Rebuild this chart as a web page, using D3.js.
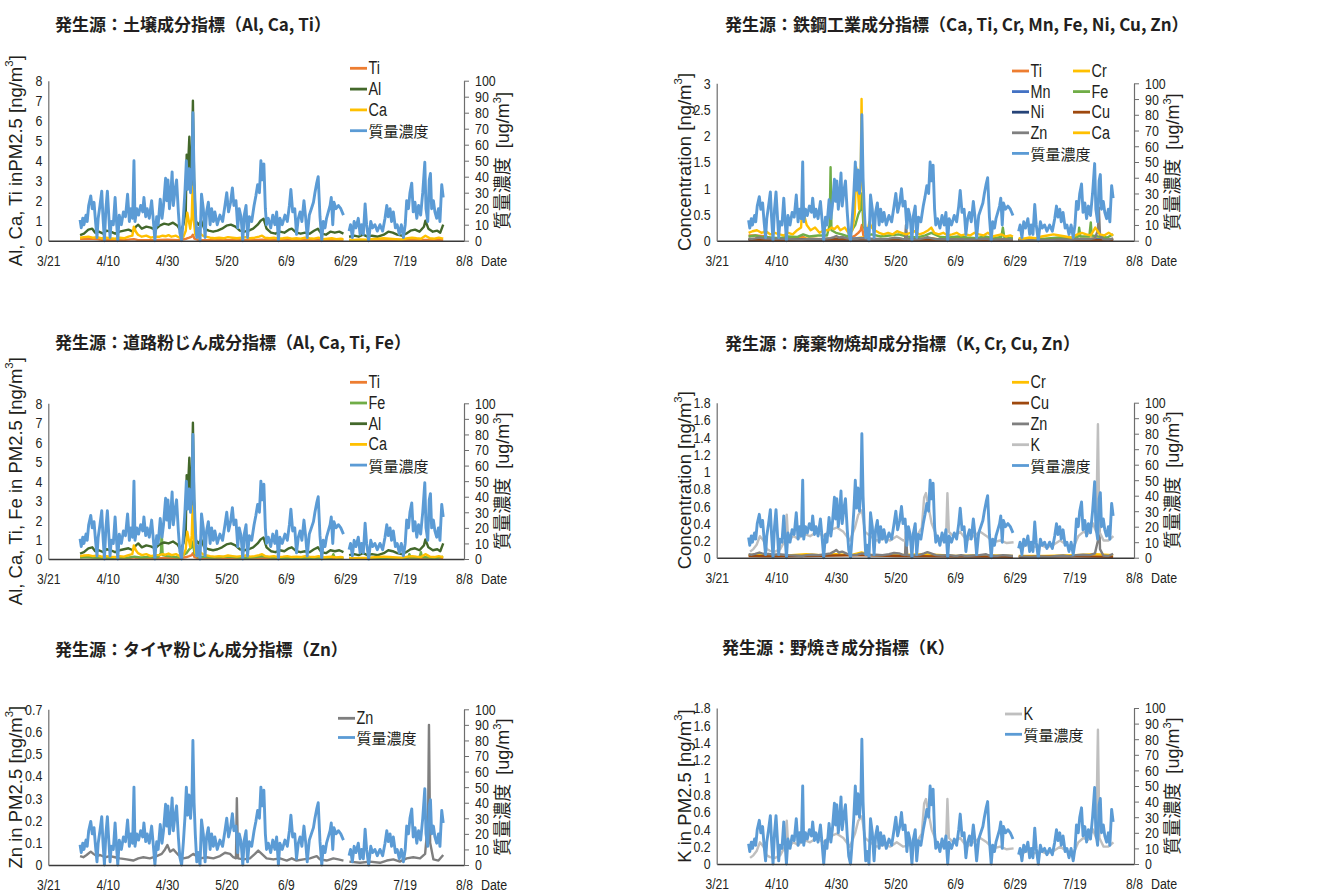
<!DOCTYPE html>
<html>
<head>
<meta charset="utf-8">
<script src="https://cdn.jsdelivr.net/npm/d3@7"></script>
<style>
  body { margin: 0; background: #fff; }
  svg { display: block; }
  .tick text { font-family: 'Liberation Sans', Arial, sans-serif; font-size: 15.5px; fill: #231f20; }
</style>
</head>
<body>
<svg id="chart" width="1337" height="892"></svg>
<script>
// x axis: days since 3/21
var dateTicks = [0, 20, 40, 60, 80, 100, 120, 140];
var dateLabels = ['3/21', '4/10', '4/30', '5/20', '6/9', '6/29', '7/19', '8/8'];

var ticksTo8 = [0, 1, 2, 3, 4, 5, 6, 7, 8];
var ticksTo3 = [0, 0.5, 1, 1.5, 2, 2.5, 3];
var ticksTo18 = [0, 0.2, 0.4, 0.6, 0.8, 1, 1.2, 1.4, 1.6, 1.8];
var ticksTo07 = [0, 0.1, 0.2, 0.3, 0.4, 0.5, 0.6, 0.7];
var massTicks = [0, 10, 20, 30, 40, 50, 60, 70, 80, 90, 100];

// 質量濃度 [ug/m3], [day, value]
var mass = [
  [10.7,13],[11.1,8],[11.6,14],[12.0,10],[12.7,16],[13.1,12],[13.6,22],[14.3,28],[14.8,20],[15.4,24],
  [15.9,12],[16.4,2],[16.8,14],[17.4,22],[18.0,31],[18.4,15],[18.9,0],[19.4,20],[19.9,31],[20.3,18],
  [20.8,2],[21.2,12],[21.9,10],[22.5,27],[22.9,14],[23.4,0],[23.9,16],[24.6,10],[25.3,18],[26.0,15],
  [26.7,29],[27.3,12],[27.8,20],[28.4,14],[28.85,50],[29.2,12],[29.8,20],[30.4,16],[31.1,22],[31.8,18],
  [32.2,27],[32.8,15],[33.3,20],[34.0,14],[34.8,25],[35.4,12],[35.9,0],[36.5,15],[37.0,10],[37.7,26],
  [38.3,14],[38.8,22],[39.5,39],[39.9,25],[40.3,38],[40.8,20],[41.2,28],[41.7,43],[42.1,22],[42.7,32],
  [43.2,38],[43.8,18],[44.3,5],[44.9,0],[45.5,15],[46.0,30],[46.5,50],[46.9,32],[47.4,45],[47.9,30],
  [48.4,45],[48.7,80],[49.1,40],[49.5,20],[50.0,2],[50.5,8],[51.1,0],[51.6,29],[52.2,20],[52.8,2],
  [53.3,18],[53.9,24],[54.5,10],[55.0,20],[55.6,12],[56.1,18],[56.9,10],[57.8,16],[58.7,12],[59.5,22],
  [60.1,30],[60.7,18],[61.4,24],[62.0,33],[62.5,22],[63.2,25],[63.8,8],[64.3,20],[64.9,15],[65.5,0],
  [66.0,16],[66.6,22],[67.1,2],[67.7,15],[68.5,12],[69.3,22],[69.9,28],[70.5,35],[71.1,30],[71.6,50],
  [72.1,38],[72.6,48],[73.1,20],[73.5,10],[74.1,14],[74.9,8],[75.6,16],[76.3,10],[76.9,18],[77.5,0],
  [78.0,14],[78.8,10],[79.7,16],[80.5,12],[81.2,22],[81.7,32],[82.3,18],[83.0,20],[83.6,4],[84.2,14],
  [84.8,18],[85.4,12],[86.1,25],[86.7,14],[87.2,2],[87.9,16],[88.6,20],[89.3,24],[89.8,30],[90.4,36],
  [90.9,40],[91.5,15],[92.1,0],[92.6,12],[93.2,8],[93.7,14],[94.3,18],[94.9,22],[95.3,27],[95.8,10],
  [96.2,24],[96.9,20],[97.7,22],[98.5,20],[99.4,16],[100.3,null],
  [101.3,6],[101.8,10],[102.4,2],[103.0,12],[103.6,8],[104.4,14],[105.0,4],[105.5,10],[106.1,4],[106.7,23],
  [107.2,10],[107.9,0],[108.6,12],[109.2,8],[110.0,10],[110.8,6],[111.7,10],[112.6,6],[113.4,14],[114.0,22],
  [114.5,15],[115.1,20],[115.6,12],[116.2,18],[116.9,8],[117.5,10],[118.2,4],[118.9,10],[119.6,2],[120.2,10],
  [120.7,25],[121.3,20],[121.8,30],[122.4,36],[122.9,18],[123.5,24],[124.1,14],[124.7,22],[125.4,16],[126.1,30],
  [126.8,49],[127.2,20],[127.8,12],[128.3,38],[128.7,42],[129.1,20],[129.7,25],[130.2,18],[130.8,14],[131.4,20],
  [131.9,12],[132.5,35],[133.0,27]
];

// element concentrations [ng/m3], [day, value]
var al = [
  [10.7,0.28],[12,0.35],[13.5,0.55],[14.8,0.6],[15.8,0.4],[17,0.45],[18.5,0.35],[19.6,0.5],[21,0.45],[22.5,0.35],
  [24,0.45],[25.5,0.5],[27,0.55],[28.5,0.45],[29.5,0.7],[30.3,0.8],[31.5,0.6],[33,0.7],[34.5,0.65],[36,0.55],
  [37.5,0.75],[39,0.85],[40.5,0.8],[42,0.9],[43.5,0.75],[44.5,0.5],[45.5,0.8],[46.3,1.5],[46.6,4.3],[47,3.5],
  [47.5,5.2],[48.2,2.5],[48.7,7.0],[49.1,3.0],[49.6,1.0],[50.5,0.8],[51.5,1.0],[52.5,0.6],[54,0.5],[55.5,0.45],
  [57,0.5],[58.5,0.6],[60,0.75],[61.5,0.8],[63,0.7],[64.5,0.5],[66,0.45],[67.5,0.5],[69,0.6],[70.5,0.8],
  [71.5,1.0],[72.5,1.1],[73.5,0.6],[75,0.4],[76.5,0.35],[78,0.45],[79.5,0.4],[81,0.55],[82,0.6],[83.5,0.4],
  [85,0.35],[86.5,0.4],[88,0.35],[89.5,0.5],[90.8,0.6],[92,0.35],[93.5,0.3],[95,0.45],[96.5,0.4],[98,0.45],
  [99.4,0.35],[100.3,null],[101.3,0.2],[103,0.25],[104.5,0.2],[106,0.3],[107.5,0.2],[109,0.25],[111,0.2],[113,0.3],
  [114.5,0.45],[116,0.4],[117.5,0.3],[119,0.25],[120.5,0.35],[122,0.5],[123.5,0.55],[125,0.45],[126.5,0.7],[127,1.0],
  [128,0.6],[129.5,0.45],[131,0.5],[132,0.4],[133,0.8]
];
var ca = [
  [10.7,0.15],[12,0.18],[13.5,0.2],[15,0.15],[16.5,0.18],[18,0.12],[19.5,0.15],[21,0.12],[22.5,0.1],[24,0.15],
  [25.5,0.12],[27,0.2],[28.3,0.25],[28.8,0.7],[29.5,0.45],[30.2,0.3],[31.5,0.2],[33,0.25],[34.5,0.15],[36,0.2],
  [37.5,0.2],[38.5,0.25],[39.5,0.22],[40.5,0.28],[41.5,0.2],[43,0.25],[44.5,0.12],[45.5,0.2],[46.3,0.5],[46.8,1.4],
  [47.3,1.0],[47.8,0.6],[48.3,1.2],[48.6,2.7],[49,1.0],[49.5,0.3],[50.5,0.15],[51.2,0.35],[52,0.25],[53,0.2],
  [54.5,0.15],[56,0.12],[57.5,0.15],[59,0.12],[60.5,0.18],[62,0.15],[63.5,0.12],[65,0.15],[66.5,0.18],[68,0.12],
  [69.5,0.15],[71,0.2],[72,0.25],[73,0.15],[74.5,0.12],[76,0.15],[77.5,0.1],[79,0.12],[80.5,0.15],[82,0.1],
  [83.5,0.12],[85,0.1],[86.5,0.15],[88,0.12],[89.5,0.1],[91,0.15],[92.5,0.08],[94,0.1],[95.5,0.12],[97,0.08],
  [98.5,0.1],[99.4,0.08],[100.3,null],[101.3,0.05],[103,0.04],[105,0.06],[107,0.05],[109,0.08],[111,0.1],[113,0.12],
  [115,0.1],[117,0.08],[119,0.06],[121,0.12],[122.5,0.15],[124,0.12],[125.5,0.1],[127,0.25],[128.5,0.12],[130,0.1],
  [131.5,0.15],[133,0.1]
];
var ti = [
  [10.7,0.1],[13,0.1],[15,0.09],[16.5,0.08],[18,0.05],[21,0.04],[25,0.03],[28.8,0.08],[30,0.04],[35,0.03],
  [40,0.05],[44,0.03],[46.5,0.1],[47.5,0.15],[48.3,0.2],[48.7,0.3],[49.2,0.1],[50.5,0.04],[55,0.03],[60,0.03],
  [65,0.02],[70,0.04],[72,0.05],[75,0.02],[80,0.02],[85,0.02],[90,0.03],[95,0.02],[99.4,0.02],[100.3,null],
  [101.3,0.01],[110,0.01],[120,0.02],[127,0.04],[133,0.02]
];
var fe = [
  [10.7,0.08],[13,0.1],[15,0.07],[18,0.06],[21,0.05],[24,0.08],[27,0.07],[29,0.12],[31,0.08],[34,0.1],
  [37,0.1],[37.9,0.3],[38.2,1.4],[38.5,0.2],[40,0.15],[42,0.12],[44,0.08],[46.5,0.3],[47.5,0.5],[48.3,0.6],
  [48.7,0.9],[49.2,0.3],[50.5,0.1],[52,0.12],[55,0.08],[58,0.1],[61,0.12],[64,0.08],[67,0.06],[70,0.1],
  [72,0.15],[75,0.07],[78,0.06],[81,0.08],[84,0.06],[87,0.05],[90,0.08],[93,0.05],[95.5,0.07],[96,0.25],
  [96.5,0.06],[99.4,0.05],[100.3,null],[101.3,0.03],[105,0.04],[110,0.04],[115,0.06],[119,0.05],[121.3,0.08],[121.6,0.25],
  [122,0.08],[125,0.08],[125.5,0.35],[125.8,0.1],[128,0.08],[131,0.06],[133,0.12]
];
var zn = [
  [10.7,0.04],[11.8,0.035],[12.9,0.045],[14.3,0.06],[15.2,0.05],[16.3,0.04],[17.4,0.045],[19.1,0.035],[20.8,0.04],[22.5,0.035],
  [24.1,0.03],[26.4,0.025],[28.6,0.02],[30.3,0.03],[32,0.035],[34.2,0.03],[36.5,0.04],[38.2,0.05],[39.3,0.07],[40.1,0.09],
  [41,0.06],[42.1,0.07],[43.8,0.045],[45.5,0.03],[47.2,0.035],[48.8,0.05],[51.1,0.03],[53.3,0.035],[55.6,0.03],[57.8,0.04],
  [59.5,0.055],[61.2,0.05],[62.3,0.035],[63.2,0.03],[63.5,0.3],[63.9,0.03],[65.7,0.025],[67.9,0.03],[69.6,0.05],[70.7,0.065],
  [71.9,0.05],[73.5,0.03],[75.8,0.025],[78,0.03],[80.3,0.02],[82,0.03],[83.6,0.02],[85.9,0.025],[88.1,0.03],[90.4,0.04],
  [91.5,0.025],[93.7,0.02],[96,0.03],[97.7,0.025],[99.4,0.02],[100.3,null],[101.4,0.015],[105,0.01],[108.3,0.015],[111.7,0.01],
  [114,0.02],[116.2,0.025],[118.4,0.015],[120.7,0.03],[122.9,0.035],[125.2,0.03],[126.9,0.05],[127.9,0.2],[128.2,0.63],[128.6,0.1],
  [129.7,0.025],[131.4,0.02],[133,0.045]
];
var k = [
  [11.2,0.07],[12.3,0.1],[13.4,0.15],[14.5,0.25],[15.7,0.2],[16.8,0.1],[17.9,0.08],[19.6,0.07],[21.3,0.1],[22.9,0.2],
  [23.5,0.5],[24,0.2],[25.7,0.25],[27.4,0.22],[29.1,0.28],[31.3,0.25],[33.6,0.3],[35.8,0.25],[38,0.32],[40.3,0.35],
  [42.5,0.3],[44.7,0.2],[46.4,0.35],[47.5,0.5],[48.7,0.55],[49.8,0.3],[51.5,0.25],[53.7,0.2],[55.9,0.22],[58.2,0.2],
  [60.4,0.25],[62.6,0.2],[64.9,0.22],[67.1,0.25],[68.8,0.35],[69.6,0.7],[70.2,0.75],[71,0.6],[72.1,0.4],[73.8,0.25],
  [75.5,0.2],[77,0.3],[77.4,0.75],[77.9,0.3],[79.4,0.25],[81.7,0.3],[83.9,0.2],[86.1,0.25],[88.4,0.3],[90.6,0.25],
  [92.8,0.18],[95.1,0.2],[97.3,0.17],[99.6,0.18],[100.3,null],[101.6,0.1],[104,0.15],[106.3,0.12],[108.5,0.15],[110.7,0.12],
  [113,0.15],[115.2,0.2],[117.4,0.15],[119.7,0.12],[121.3,0.25],[123,0.3],[124.7,0.28],[126.2,0.4],[127.3,0.3],[127.9,1.55],
  [128.4,0.3],[129.8,0.2],[131.4,0.2],[133.1,0.25]
];
var cr = [
  [10.7,0.03],[15,0.04],[20,0.02],[25,0.03],[30,0.04],[35,0.03],[40,0.04],[45,0.03],[48.6,0.06],[52,0.03],
  [60,0.03],[70,0.04],[80,0.02],[90,0.03],[99.4,0.02],[100.3,null],[101.3,0.02],[110,0.02],[120,0.03],[127,0.04],[133,0.03]
];
var mn = [
  [10.7,0.03],[20,0.02],[30,0.03],[40,0.03],[48.6,0.05],[55,0.02],[70,0.03],[85,0.02],[99.4,0.02],[100.3,null],
  [101.3,0.01],[115,0.02],[127,0.03],[133,0.02]
];
var ni = [
  [10.7,0.01],[30,0.01],[48.6,0.02],[70,0.01],[99.4,0.01],[100.3,null],[101.3,0.01],[133,0.01]
];
var cu = [
  [10.7,0.02],[20,0.015],[30,0.02],[40,0.025],[48.6,0.03],[60,0.02],[75,0.015],[99.4,0.01],[100.3,null],
  [101.3,0.01],[120,0.015],[133,0.01]
];

var colours = {
  Ti: '#ED7D31', Al: '#43682B', Ca: '#FFC000', Fe: '#70AD47', Cr: '#FFC000', Mn: '#4472C4',
  Ni: '#264478', Cu: '#9E480E', Zn: '#7F7F7F', K: '#BFBFBF', '質量濃度': '#5B9BD5'
};
var seriesData = { Ti: ti, Al: al, Ca: ca, Fe: fe, Cr: cr, Mn: mn, Ni: ni, Cu: cu, Zn: zn, K: k, '質量濃度': mass };

var panels = [
  { title: '発生源：土壌成分指標（Al, Ca, Ti）', tx: 55, ty: 23,
    x0: 48.3, x1: 464, y0: 240.7, yTop: 80.7, leftMax: 8, leftTicks: ticksTo8,
    leftTitle: 'Al, Ca, Ti inPM2.5 [ng/m', series: ['Ti', 'Al', 'Ca', '質量濃度'],
    legend: { x: 350, y: 68.3, dy: 20.8, cols: 1, colW: 0 } },
  { title: '発生源：鉄鋼工業成分指標（Ca, Ti, Cr, Mn, Fe, Ni, Cu, Zn）', tx: 725, ty: 23,
    x0: 716.7, x1: 1134, y0: 240.7, yTop: 83.3, leftMax: 3, leftTicks: ticksTo3,
    leftTitle: 'Concentration [ng/m', series: ['Ti', 'Cr', 'Mn', 'Fe', 'Ni', 'Cu', 'Zn', 'Ca', '質量濃度'],
    legend: { x: 1012, y: 71, dy: 20.6, cols: 2, colW: 61 } },
  { title: '発生源：道路粉じん成分指標（Al, Ca, Ti, Fe）', tx: 55, ty: 341.7,
    x0: 48.3, x1: 464, y0: 559, yTop: 403.3, leftMax: 8, leftTicks: ticksTo8,
    leftTitle: 'Al, Ca, Ti, Fe in PM2.5 [ng/m', series: ['Ti', 'Fe', 'Al', 'Ca', '質量濃度'],
    legend: { x: 350, y: 382.3, dy: 20.7, cols: 1, colW: 0 } },
  { title: '発生源：廃棄物焼却成分指標（K, Cr, Cu, Zn）', tx: 725, ty: 342.7,
    x0: 716.7, x1: 1134, y0: 557.7, yTop: 402.7, leftMax: 1.8, leftTicks: ticksTo18,
    leftTitle: 'Concentration [ng/m', series: ['Cr', 'Cu', 'Zn', 'K', '質量濃度'],
    legend: { x: 1012, y: 382.3, dy: 20.8, cols: 1, colW: 0 } },
  { title: '発生源：タイヤ粉じん成分指標（Zn）', tx: 55, ty: 648.3,
    x0: 48.3, x1: 464, y0: 865, yTop: 709.3, leftMax: 0.7, leftTicks: ticksTo07,
    leftTitle: 'Zn in PM2.5 [ng/m', series: ['Zn', '質量濃度'],
    legend: { x: 338, y: 718.3, dy: 19.2, cols: 1, colW: 0 } },
  { title: '発生源：野焼き成分指標（K）', tx: 722, ty: 646,
    x0: 716.7, x1: 1134, y0: 864, yTop: 708, leftMax: 1.8, leftTicks: ticksTo18,
    leftTitle: 'K in PM2.5 [ng/m', series: ['K', '質量濃度'],
    legend: { x: 1005, y: 714, dy: 20.3, cols: 1, colW: 0 } }
];

var svg = d3.select('#chart');
var latin = "'Liberation Sans', Arial, 'Noto Sans CJK JP', sans-serif";

// the original uses a condensed sans for numbers and short labels
function condense(sel, ratio) {
  sel.each(function() {
    var w = this.getComputedTextLength();
    d3.select(this).attr('textLength', w * ratio).attr('lengthAdjust', 'spacingAndGlyphs');
  });
}

function addCubed(text, main) {
  text.append('tspan').text(main);
  text.append('tspan').attr('baseline-shift', 'super').attr('font-size', '0.62em').text('3');
  text.append('tspan').text(']');
}

function drawPanel(p) {
  var g = svg.append('g');
  var x = d3.scaleLinear().domain([0, 140]).range([p.x0, p.x1]);
  var yL = d3.scaleLinear().domain([0, p.leftMax]).range([p.y0, p.yTop]);
  var yR = d3.scaleLinear().domain([0, 100]).range([p.y0, p.yTop]);

  // title
  g.append('text')
    .attr('x', p.tx).attr('y', p.ty)
    .attr('dominant-baseline', 'central')
    .style('font-family', "'Noto Sans CJK JP', sans-serif")
    .style('font-weight', 700)
    .style('font-size', '17px')
    .style('fill', '#231f20')
    .text(p.title);

  // series lines
  p.series.forEach(function(name) {
    var y = name === '質量濃度' ? yR : yL;
    var line = d3.line()
      .defined(function(d) { return d[1] != null; })
      .x(function(d) { return x(d[0]); })
      .y(function(d) { return y(d[1]); });
    g.append('path')
      .datum(seriesData[name])
      .attr('d', line)
      .attr('fill', 'none')
      .attr('stroke', colours[name])
      .attr('stroke-width', name === '質量濃度' ? 2.9 : 2.4)
      .attr('stroke-linejoin', 'round');
  });

  // x axis
  var xa = g.append('g')
    .attr('transform', 'translate(0,' + p.y0 + ')')
    .call(d3.axisBottom(x).tickValues(dateTicks)
      .tickFormat(function(d, i) { return dateLabels[i]; })
      .tickSize(0).tickPadding(14));
  xa.select('.domain').attr('stroke', '#3a3a3a').attr('stroke-width', 1.6);
  condense(xa.selectAll('.tick text'), 0.78);

  // left axis
  var la = g.append('g')
    .attr('transform', 'translate(' + p.x0 + ',0)')
    .call(d3.axisLeft(yL).tickValues(p.leftTicks)
      .tickFormat(function(d) { return String(+d.toFixed(1)); })
      .tickSize(0).tickPadding(6));
  la.select('.domain').attr('stroke', '#6d6d6d').attr('stroke-width', 1.2);
  condense(la.selectAll('.tick text'), 0.8);

  // right axis
  var ra = g.append('g')
    .attr('transform', 'translate(' + p.x1 + ',0)')
    .call(d3.axisRight(yR).tickValues(massTicks)
      .tickSize(5).tickSizeOuter(0).tickPadding(6));
  ra.select('.domain').attr('stroke', '#6d6d6d').attr('stroke-width', 1.2);
  ra.selectAll('.tick line').attr('stroke', '#6d6d6d');
  condense(ra.selectAll('.tick text'), 0.8);

  // Date label
  var dl = g.append('text')
    .attr('x', p.x1 + 17).attr('y', p.y0 + 14)
    .attr('dy', '0.71em')
    .style('font-family', "'Liberation Sans', Arial, sans-serif")
    .style('font-size', '15.5px')
    .style('fill', '#231f20')
    .text('Date');
  condense(dl, 0.8);

  var midY = (p.y0 + p.yTop) / 2;

  // left axis title
  var lt = g.append('text')
    .attr('transform', 'translate(' + (p.x0 - 33) + ',' + midY + ') rotate(-90)')
    .attr('text-anchor', 'middle')
    .attr('dominant-baseline', 'central')
    .style('font-family', latin)
    .style('font-size', '18.5px')
    .style('fill', '#231f20');
  addCubed(lt, p.leftTitle);

  // right axis title
  var rt = g.append('text')
    .attr('transform', 'translate(' + (p.x1 + 39) + ',' + midY + ') rotate(-90)')
    .attr('text-anchor', 'middle')
    .attr('dominant-baseline', 'central')
    .style('font-family', latin)
    .style('font-size', '18px')
    .style('fill', '#231f20');
  addCubed(rt, '質量濃度\u2002[ug/m');

  // legend
  p.series.forEach(function(name, i) {
    var col = i % p.legend.cols;
    var row = Math.floor(i / p.legend.cols);
    var lx = p.legend.x + col * p.legend.colW;
    var ly = p.legend.y + row * p.legend.dy;
    var cjk = name === '質量濃度';
    g.append('line')
      .attr('x1', lx).attr('x2', lx + 17)
      .attr('y1', ly).attr('y2', ly)
      .attr('stroke', colours[name])
      .attr('stroke-width', 2.8);
    var t = g.append('text')
      .attr('x', lx + 18.5).attr('y', ly)
      .attr('dominant-baseline', 'central')
      .style('font-family', cjk ? "'Noto Sans CJK JP', sans-serif" : "'Liberation Sans', Arial, sans-serif")
      .style('font-size', cjk ? '15px' : '18px')
      .style('fill', '#231f20')
      .text(name);
    if (!cjk) condense(t, 0.8);
  });
}

panels.forEach(drawPanel);
</script>
</body>
</html>
